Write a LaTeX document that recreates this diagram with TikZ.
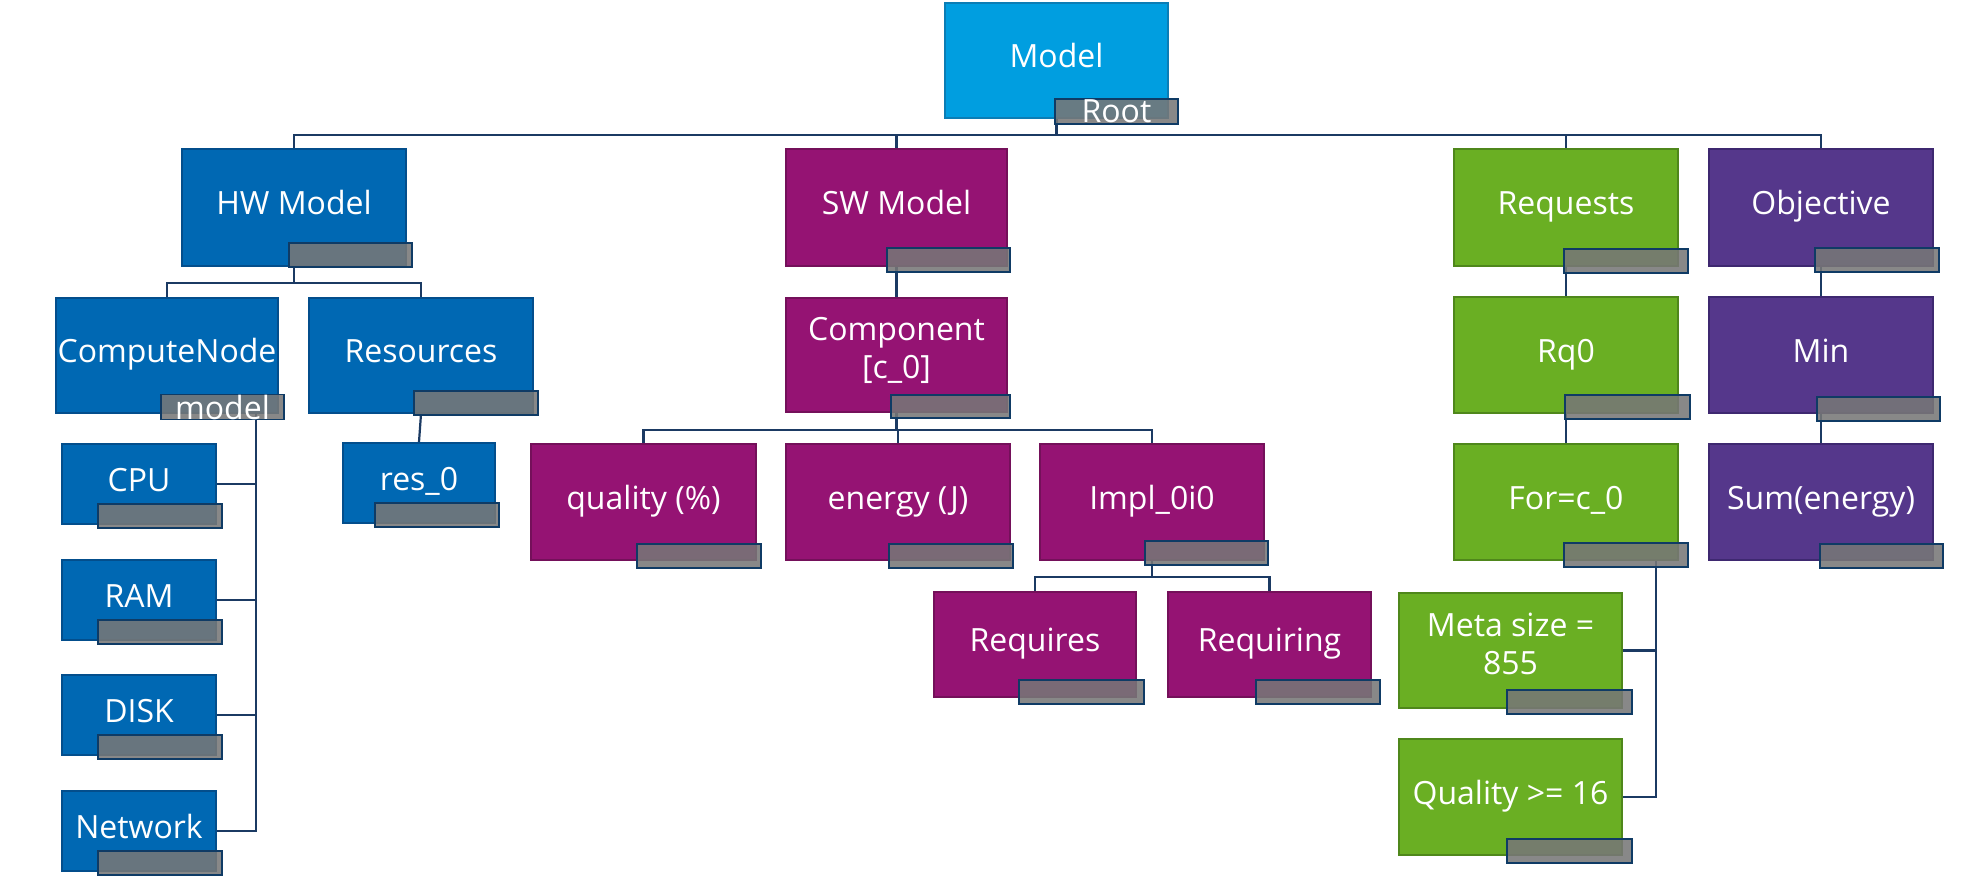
\documentclass[tikz,border=0pt]{standalone}
\usepackage{fontspec}
\setmainfont{Open Sans}
\usetikzlibrary{calc}
\pgfdeclarelayer{background}
\pgfsetlayers{background,main}
\definecolor{cModel}{HTML}{009EE0}
\definecolor{bModel}{HTML}{0B7DB5}
\definecolor{cHW}{HTML}{0068B3}
\definecolor{bHW}{HTML}{034E8C}
\definecolor{cSW}{HTML}{951373}
\definecolor{bSW}{HTML}{74105A}
\definecolor{cGR}{HTML}{6AAF23}
\definecolor{bGR}{HTML}{4F871B}
\definecolor{cOB}{HTML}{55378B}
\definecolor{bOB}{HTML}{3E2870}
\definecolor{cLab}{HTML}{777777}
\definecolor{bLab}{HTML}{0F3B65}
\definecolor{cConn}{HTML}{1B3A63}
\tikzset{
  boxbase/.style={rectangle, inner sep=0pt, line width=2pt, text=white, align=center,
    font=\fontsize{32}{40}\selectfont, text height=24pt, text depth=10pt},
  twoline/.style={text height=, text depth=14pt},
  modelbox/.style={boxbase, fill=cModel, draw=bModel},
  hwbox/.style={boxbase, fill=cHW, draw=bHW},
  swbox/.style={boxbase, fill=cSW, draw=bSW},
  grbox/.style={boxbase, fill=cGR, draw=bGR},
  obbox/.style={boxbase, fill=cOB, draw=bOB},
  labbox/.style={rectangle, inner sep=0pt, line width=1.5pt, draw=bLab, fill=cLab, fill opacity=0.88,
    text opacity=1, text=white, font=\fontsize{32}{40}\selectfont},
  conn/.style={draw=cConn, line width=2.2pt}
}
\newcommand\mybox[7]{%
  \pgfmathsetmacro\bw{#5-#3}\pgfmathsetmacro\bh{#6-#4}%
  \pgfmathsetmacro\bcx{(#3+#5)/2}\pgfmathsetmacro\bcy{(#4+#6)/2}%
  \node[#2, minimum width=\bw pt, minimum height=\bh pt] (#1) at (\bcx,\bcy) {#7};}
\newcommand\mylab[6]{%
  \pgfmathsetmacro\bw{#4-#2}\pgfmathsetmacro\bh{#5-#3}%
  \pgfmathsetmacro\bcx{(#2+#4)/2}\pgfmathsetmacro\bcy{(#3+#5)/2}%
  \node[labbox, minimum width=\bw pt, minimum height=\bh pt] (#1) at (\bcx,\bcy) {#6};}
\begin{document}
\begin{tikzpicture}[x=1pt,y=-1pt]
\useasboundingbox (0,0) rectangle (1987,876);
% boxes
\mybox{model}{modelbox}{945}{3}{1168}{118}{Model}
\mybox{hw}{hwbox}{182}{149}{406}{266}{HW Model}
\mybox{sw}{swbox}{786}{149}{1007}{266}{SW Model}
\mybox{req}{grbox}{1454}{149}{1678}{266}{Requests}
\mybox{obj}{obbox}{1709}{149}{1933}{266}{Objective}
\mybox{cn}{hwbox}{56}{298}{278}{413}{ComputeNode}
\mybox{res}{hwbox}{309}{298}{533}{413}{Resources}
\mybox{comp}{swbox,twoline}{786}{298}{1007}{412}{Component\\[-2pt][c\_0]}
\mybox{rq}{grbox}{1454}{297}{1678}{413}{Rq0}
\mybox{min}{obbox}{1709}{297}{1933}{413}{Min}
\mybox{cpu}{hwbox}{62}{444}{216}{524}{CPU}
\mybox{ram}{hwbox}{62}{560}{216}{640}{RAM}
\mybox{disk}{hwbox}{62}{675}{216}{755}{DISK}
\mybox{net}{hwbox}{62}{791}{216}{871}{Network}
\mybox{res0}{hwbox}{343}{443}{495}{523}{res\_0}
\mybox{qual}{swbox}{531}{444}{756}{560}{quality (\%)}
\mybox{ener}{swbox}{786}{444}{1010}{560}{energy (J)}
\mybox{impl}{swbox}{1040}{444}{1264}{560}{Impl\_0i0}
\mybox{for}{grbox}{1454}{444}{1678}{560}{For=c\_0}
\mybox{sum}{obbox}{1709}{444}{1933}{560}{Sum(energy)}
\mybox{reqs}{swbox}{934}{592}{1136}{697}{Requires}
\mybox{reqg}{swbox}{1168}{592}{1371}{697}{Requiring}
\mybox{meta}{grbox,twoline}{1399}{593}{1622}{708}{Meta size =\\[-2pt]855}
\mybox{qge}{grbox}{1399}{739}{1622}{855}{Quality >= 16}
% labels
\mylab{lmodel}{1055}{99}{1178}{124}{Root}
\mylab{lhw}{289}{243}{412}{267}{}
\mylab{lsw}{887}{248}{1010}{272}{}
\mylab{lreq}{1564}{249}{1688}{273}{}
\mylab{lobj}{1815}{248}{1939}{272}{}
\mylab{lcn}{161}{395}{284}{419}{model}
\mylab{lres}{414}{391}{538}{415}{}
\mylab{lcomp}{891}{395}{1010}{418}{}
\mylab{lrq}{1565}{395}{1690}{419}{}
\mylab{lmin}{1817}{397}{1940}{421}{}
\mylab{lcpu}{98}{504}{222}{528}{}
\mylab{lram}{98}{620}{222}{644}{}
\mylab{ldisk}{98}{735}{222}{759}{}
\mylab{lnet}{98}{851}{222}{875}{}
\mylab{lres0}{375}{503}{499}{527}{}
\mylab{lqual}{637}{544}{761}{568}{}
\mylab{lener}{889}{544}{1013}{568}{}
\mylab{limpl}{1145}{541}{1268}{565}{}
\mylab{lfor}{1564}{543}{1688}{567}{}
\mylab{lsum}{1820}{544}{1943}{568}{}
\mylab{lreqs}{1019}{680}{1144}{704}{}
\mylab{lreqg}{1256}{680}{1380}{704}{}
\mylab{lmeta}{1507}{690}{1632}{714}{}
\mylab{lqge}{1507}{839}{1632}{863}{}
% connectors
\begin{pgfonlayer}{background}
\coordinate (b0) at ($(model.south)+(0,16)$);
\draw[conn] (model.south) -- (b0) -| (hw.north);
\draw[conn] (b0) -| (sw.north);
\draw[conn] (b0) -| (req.north);
\draw[conn] (b0) -| (obj.north);
\coordinate (b1) at ($(hw.south)+(0,16)$);
\draw[conn] (hw.south) -- (b1) -| (cn.north);
\draw[conn] (b1) -| (res.north);
\coordinate (cnv) at ($(cn.south east)+(-23,0)$);
\draw[conn] (cnv) |- (cpu.east);
\draw[conn] (cnv) |- (ram.east);
\draw[conn] (cnv) |- (disk.east);
\draw[conn] (cnv) |- (net.east);
\draw[conn] (res.south) -- (res0.north);
\draw[conn] (sw.south) -- (comp.north);
\coordinate (b2) at ($(comp.south)+(0,17)$);
\draw[conn] (comp.south) -- (b2) -| (qual.north);
\draw[conn] (b2) -| (ener.north);
\draw[conn] (b2) -| (impl.north);
\coordinate (b3) at ($(impl.south)+(0,16)$);
\draw[conn] (impl.south) -- (b3) -| (reqs.north);
\draw[conn] (b3) -| (reqg.north);
\draw[conn] (req.south) -- (rq.north);
\draw[conn] (rq.south) -- (for.north);
\draw[conn] (obj.south) -- (min.north);
\draw[conn] (min.south) -- (sum.north);
\coordinate (forv) at ($(for.south east)+(-23,0)$);
\draw[conn] (forv) |- (meta.east);
\draw[conn] (forv) |- (qge.east);
\end{pgfonlayer}
\end{tikzpicture}
\end{document}
